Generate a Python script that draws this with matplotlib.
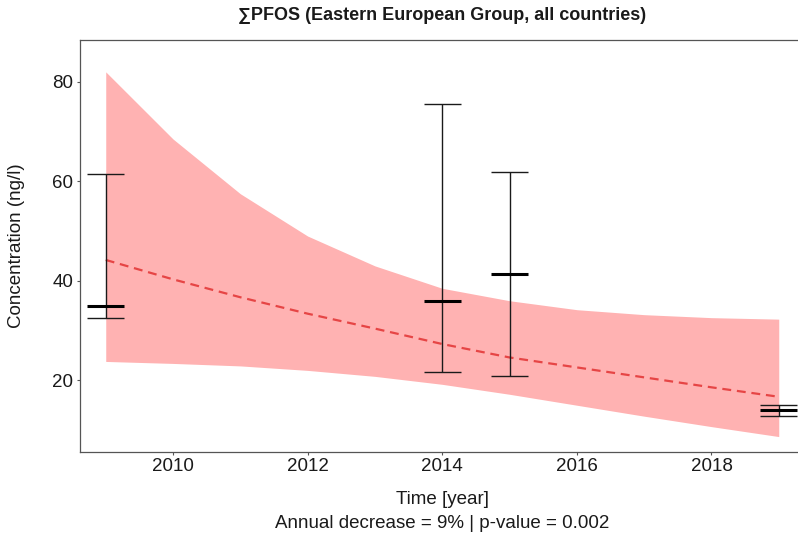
import numpy as np
import matplotlib as mpl
import matplotlib.pyplot as plt

# ribbon (confidence band) and fitted trend, one value per year
years = [2009, 2010, 2011, 2012, 2013, 2014, 2015, 2016, 2017, 2018, 2019]
band_upper = [82.0, 68.5, 57.5, 49.0, 43.0, 38.5, 36.0, 34.2, 33.2, 32.6, 32.3]
band_lower = [23.8, 23.4, 22.9, 22.0, 20.8, 19.2, 17.2, 15.0, 12.8, 10.7, 8.7]
trend = [44.2, 40.3, 36.7, 33.4, 30.4, 27.3, 24.6, 22.6, 20.6, 18.6, 16.7]

# sampled years: error bar low / median / high
obs_years = [2009, 2014, 2015, 2019]
obs_low = [32.6, 21.7, 20.9, 12.9]
obs_med = [35.0, 35.9, 41.4, 14.0]
obs_high = [61.4, 75.6, 61.9, 15.1]

x_ticks = [2010, 2012, 2014, 2016, 2018]
y_ticks = [20, 40, 60, 80]

TITLE = "\u2211PFOS (Eastern European Group, all countries)"
XLABEL = "Time [year]"
YLABEL = "Concentration (ng/l)"
SUBTITLE = "Annual decrease = 9% | p-value = 0.002"

mpl.rcParams.update({
    "font.family": ["Liberation Sans", "DejaVu Sans"],
    "axes.linewidth": 0.9,
})

W, H = 798, 540
fig = plt.figure(figsize=(W / 100, H / 100), dpi=100)

# panel in pixel coords (right edge runs slightly past the image, as in the reference)
left_px, right_px, top_px, bottom_px = 79.5, 805, 40, 452
ax = fig.add_axes([left_px / W, 1 - bottom_px / H,
                   (right_px - left_px) / W, (bottom_px - top_px) / H])

ax.fill_between(years, band_lower, band_upper, color="#FFB2B2", linewidth=0, zorder=1)
ax.plot(years, trend, color="#E64545", linewidth=1.6, dashes=(4, 2.6), zorder=2)

cap = 0.275
obs_x = np.array(obs_years, dtype=float)
ax.vlines(obs_x, obs_low, obs_high, color="#1a1a1a", linewidth=1.0, zorder=3)
ax.hlines(obs_low, obs_x - cap, obs_x + cap, color="#1a1a1a", linewidth=1.0, zorder=3)
ax.hlines(obs_high, obs_x - cap, obs_x + cap, color="#1a1a1a", linewidth=1.0, zorder=3)
ax.hlines(obs_med, obs_x - cap, obs_x + cap, color="#000000", linewidth=2.2, zorder=4)

ax.set_xlim(2008.61, 2019.39)
ax.set_ylim(5.6, 88.4)
ax.set_xticks(x_ticks)
ax.set_yticks(y_ticks)
ax.tick_params(axis="both", length=2.5, width=0.8, color="#555555",
               labelsize=13.5, labelcolor="#1a1a1a", pad=2)

for side in ["left", "bottom", "top"]:
    ax.spines[side].set_color("#555555")
ax.spines["right"].set_visible(False)

fig.text(442 / W, 1 - 15 / H, TITLE, ha="center", va="center",
         fontsize=13, fontweight="bold", color="#1a1a1a")
fig.text(442 / W, 1 - 499 / H, XLABEL, ha="center", va="center",
         fontsize=13.5, color="#1a1a1a")
fig.text(442 / W, 1 - 523 / H, SUBTITLE, ha="center", va="center",
         fontsize=13.5, color="#1a1a1a")
fig.text(17 / W, 1 - 246 / H, YLABEL, ha="center", va="center",
         rotation=90, fontsize=13.5, color="#1a1a1a")

fig.savefig("out.png", dpi=100)
